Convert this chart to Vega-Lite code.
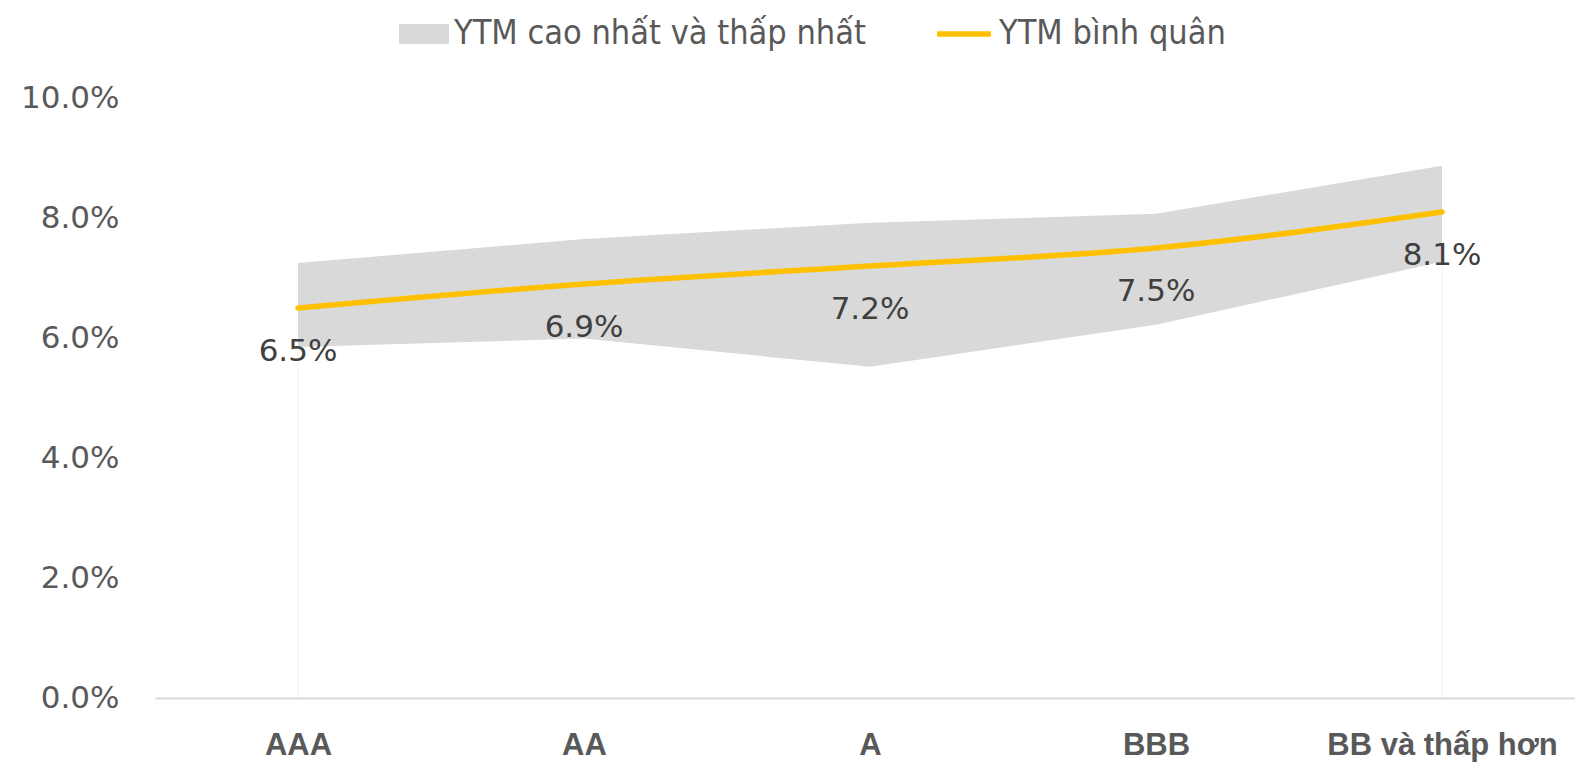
{
  "$schema": "https://vega.github.io/schema/vega-lite/v6.json",
  "width": 1430,
  "height": 600,
  "autosize": {"type": "none"},
  "padding": {"left": 155, "top": 98, "right": -10, "bottom": 65},
  "background": "white",
  "config": {
    "view": {"stroke": null},
    "font": "DejaVu Sans",
    "axisY": {"domain": false, "ticks": false, "grid": false, "labelFont": "DejaVu Sans", "labelFontSize": 31, "labelColor": "#595959", "labelPadding": 36, "format": ".1%", "tickCount": 5},
    "axisX": {"domain": true, "domainColor": "#d9d9d9", "domainWidth": 2, "ticks": false, "grid": false, "labelFont": "Liberation Sans", "labelFontSize": 31, "labelFontWeight": "bold", "labelColor": "#595959", "labelPadding": 32, "labelAngle": 0, "labelLimit": 500},
    "legend": {"labelFont": "DejaVu Sans Condensed, DejaVu Sans, sans-serif", "labelFontSize": 34, "labelColor": "#595959", "labelLimit": 700, "labelOffset": 5, "title": null}
  },
  "data": {"values": [
    {"rating": "AAA", "low": 0.0585, "high": 0.0725, "avg": 0.065},
    {"rating": "AA", "low": 0.0599, "high": 0.0765, "avg": 0.069},
    {"rating": "A", "low": 0.0552, "high": 0.0792, "avg": 0.072},
    {"rating": "BBB", "low": 0.0622, "high": 0.0807, "avg": 0.075},
    {"rating": "BB và thấp hơn", "low": 0.0727, "high": 0.0887, "avg": 0.081}
  ]},
  "encoding": {
    "x": {"field": "rating", "type": "ordinal", "sort": null, "title": null, "scale": {"type": "point", "padding": 0.5}}
  },
  "layer": [
    {
      "mark": {"type": "area", "interpolate": "linear", "opacity": 1},
      "encoding": {
        "y": {"field": "high", "type": "quantitative", "title": null, "scale": {"domain": [0, 0.1]}},
        "y2": {"field": "low"},
        "fill": {
          "datum": "YTM cao nhất và thấp nhất",
          "type": "nominal",
          "scale": {"range": ["#d9d9d9"]},
          "legend": {
            "title": null,
            "orient": "none",
            "legendX": 244,
            "legendY": -89,
            "symbolType": "M-1,-0.4H1V0.4H-1Z",
            "symbolSize": 2500,
            "symbolStrokeWidth": 0,
            "symbolOpacity": 1
          }
        }
      }
    },
    {
      "transform": [{"filter": {"field": "rating", "oneOf": ["AAA", "BB và thấp hơn"]}}],
      "mark": {"type": "rule", "color": "#f2f2f2", "strokeWidth": 1},
      "encoding": {
        "y": {"field": "low", "type": "quantitative", "title": null},
        "y2": {"datum": 0}
      }
    },
    {
      "mark": {"type": "line", "interpolate": "monotone", "strokeWidth": 5.5, "strokeCap": "round"},
      "encoding": {
        "y": {"field": "avg", "type": "quantitative", "title": null},
        "stroke": {
          "datum": "YTM bình quân",
          "type": "nominal",
          "scale": {"range": ["#ffc000"]},
          "legend": {
            "title": null,
            "orient": "none",
            "legendX": 779,
            "legendY": -94,
            "symbolType": "stroke",
            "symbolSize": 2900,
            "symbolStrokeWidth": 5.5
          }
        }
      }
    },
    {
      "mark": {"type": "text", "dy": 44, "fontSize": 31, "color": "#404040", "font": "DejaVu Sans", "baseline": "middle", "align": "center"},
      "encoding": {
        "y": {"field": "avg", "type": "quantitative", "title": null},
        "text": {"field": "avg", "type": "quantitative", "format": ".1%"}
      }
    }
  ]
}
